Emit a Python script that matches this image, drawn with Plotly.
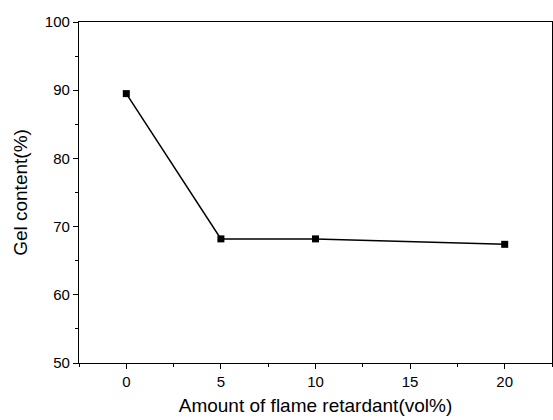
import plotly.graph_objects as go

amount = [0, 5, 10, 20]
gel = [89.5, 68.2, 68.2, 67.4]
xtick_vals = [0, 5, 10, 15, 20]
ytick_vals = [50, 60, 70, 80, 90, 100]

fig = go.Figure()
fig.add_trace(go.Scatter(
    x=amount, y=gel, mode="lines+markers",
    line=dict(color="black", width=1.5),
    marker=dict(symbol="square", size=7, color="black"),
    showlegend=False,
))

font = dict(family="Liberation Sans, Arial, sans-serif", color="black")
fig.update_layout(
    width=553, height=420,
    margin=dict(l=79, r=1, t=22, b=57),
    paper_bgcolor="white", plot_bgcolor="white",
    font=dict(size=15, **font),
    xaxis=dict(
        range=[-2.5, 22.5], tickvals=xtick_vals,
        showline=True, linecolor="black", linewidth=1.2, mirror=True,
        ticks="outside", ticklen=5, tickwidth=1, tickcolor="black",
        minor=dict(dtick=2.5, tick0=0, ticks="outside", ticklen=3, tickcolor="black", showgrid=False),
        showgrid=False, zeroline=False,
        title=dict(text="Amount of flame retardant(vol%)", font=dict(size=19, **font), standoff=9),
        tickfont=dict(size=15, **font),
    ),
    yaxis=dict(
        range=[50, 100], tickvals=ytick_vals,
        showline=True, linecolor="black", linewidth=1.2, mirror=True,
        ticks="outside", ticklen=5, tickwidth=1, tickcolor="black",
        minor=dict(dtick=5, tick0=50, ticks="outside", ticklen=3, tickcolor="black", showgrid=False),
        showgrid=False, zeroline=False,
        title=dict(text="Gel content(%)", font=dict(size=19, **font), standoff=12),
        tickfont=dict(size=15, **font),
    ),
)

fig.write_html("out.html")
